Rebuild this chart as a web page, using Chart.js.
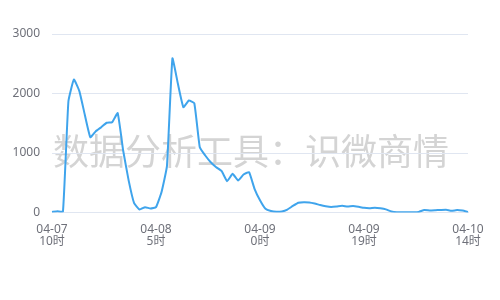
<!DOCTYPE html>
<html>
<head>
<meta charset="utf-8">
<script src="https://cdn.jsdelivr.net/npm/chart.js@4/dist/chart.umd.min.js"></script>
<style>
  html, body { margin: 0; padding: 0; background: #fff; }
  #wrap { width: 500px; height: 300px; position: relative; }
</style>
</head>
<body>
<div id="wrap"><canvas id="trend-chart"></canvas></div>
<script>
// hourly counts, 04-07 10时 -> 04-10 14时
const startDay = 7;
const startHour = 10;
const hourCount = 77;
const values = [
    10, 20, 15, 1870, 2235, 2040, 1640, 1265, 1366, 1434,
    1508, 1518, 1670, 1042, 540, 157, 50, 90, 67, 90,
    340, 780, 2590, 2163, 1770, 1882, 1837, 1097, 958, 845,
    761, 694, 526, 650, 538, 639, 677, 398, 205, 62,
    25, 12, 18, 50, 110, 165, 172, 168, 150, 125,
    105, 92, 100, 112, 100, 108, 95, 78, 72, 80,
    70, 52, 18, 5, 5, 5, 5, 10, 42, 35,
    38, 42, 45, 28, 42, 32, 10
];
const yTicks = [0, 1000, 2000, 3000];
const labelEvery = 19;
const watermark = '数据分析工具：识微商情';

const labels = [];
for (let i = 0; i < hourCount; i++) {
    const h = startHour + i;
    const day = startDay + Math.floor(h / 24);
    labels.push(['04-' + String(day).padStart(2, '0'), (h % 24) + '时']);
}

const watermarkPlugin = {
    id: 'watermark',
    beforeDraw(chart) {
        const ctx = chart.ctx;
        ctx.save();
        ctx.font = '36px "Noto Sans CJK SC"';
        ctx.fillStyle = '#d4d4d4';
        ctx.textAlign = 'center';
        ctx.textBaseline = 'middle';
        ctx.fillText(watermark, 251, 151);
        ctx.restore();
    }
};

const tickFont = { family: '"Noto Sans", "Noto Sans CJK SC", sans-serif', size: 12, lineHeight: 1.0 };

new Chart(document.getElementById('trend-chart').getContext('2d'), {
    type: 'line',
    data: {
        labels: labels,
        datasets: [{
            data: values,
            borderColor: '#3fa4ec',
            borderWidth: 2,
            pointRadius: 0,
            tension: 0.12,
            fill: false
        }]
    },
    options: {
        responsive: true,
        maintainAspectRatio: false,
        animation: false,
        layout: { padding: { top: 34, right: 32, left: 0, bottom: 0 } },
        plugins: {
            legend: { display: false },
            tooltip: { enabled: false }
        },
        scales: {
            x: {
                grid: { display: false, drawTicks: false },
                border: { color: '#e0e6f1', width: 1 },
                afterFit(scale) { scale.height = 87.5; },
                ticks: {
                    autoSkip: false,
                    maxRotation: 0,
                    padding: 11,
                    color: '#6e7079',
                    font: tickFont,
                    callback(val, i) {
                        return i % labelEvery === 0 ? labels[i] : null;
                    }
                }
            },
            y: {
                min: yTicks[0],
                max: yTicks[yTicks.length - 1],
                afterFit(scale) { scale.width = 52; },
                afterBuildTicks(scale) { scale.ticks = yTicks.map(v => ({ value: v })); },
                grid: { color: '#e0e6f1', drawTicks: false },
                border: { display: false },
                ticks: {
                    padding: 12,
                    color: '#6e7079',
                    font: tickFont,
                    callback: v => String(v)
                }
            }
        }
    },
    plugins: [watermarkPlugin]
});
</script>
</body>
</html>
